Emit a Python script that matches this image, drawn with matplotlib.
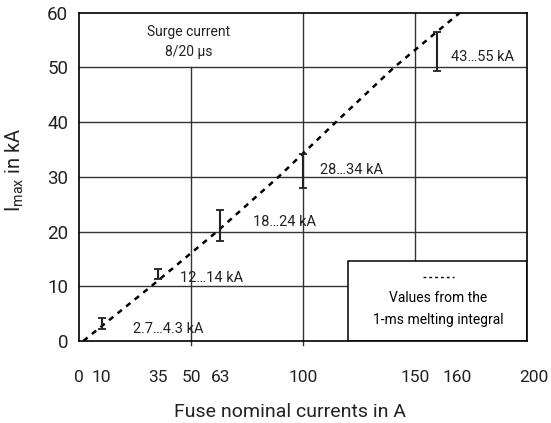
import matplotlib
matplotlib.use('Agg')
import matplotlib.pyplot as plt
from matplotlib.patches import Rectangle
import numpy as np

plt.rcParams['font.family'] = ['Roboto', 'DejaVu Sans']
plt.rcParams['mathtext.default'] = 'regular'

# courbe "valeurs de l'intégrale de fusion 1 ms"
courbe_x = [1.8, 32.1, 61.5, 89, 114.6, 140.6, 170]
courbe_y = [0, 10, 20, 30, 40, 50, 60]

# barres de courant de choc 8/20 µs
fusibles = [10, 35, 63, 100, 160]
i_bas = [2.2, 11.3, 18.2, 28.0, 49.4]
i_haut = [4.2, 13.2, 24.0, 34.2, 56.4]
etiquettes = ['2.7…4.3 kA', '12…14 kA', '18…24 kA', '28…34 kA', '43…55 kA']
etiq_pos = [(24, 2.2), (45.2, 11.5), (77.8, 21.7), (107.3, 31.2), (166, 51.9)]

x_ticks = [0, 10, 35, 50, 63, 100, 150, 160, 200]
y_ticks = [0, 10, 20, 30, 40, 50, 60]

fig = plt.figure(figsize=(5.51, 4.23), dpi=100)
ax = fig.add_axes([0.1439, 0.1939, 0.8126, 0.7761])
ax.set_xlim(0, 200)
ax.set_ylim(0, 60)

gris = '#333333'
# grille horizontale
for y in [10, 20, 30, 40, 50]:
    ax.plot([0, 200], [y, y], color=gris, lw=1, zorder=1)
# grille verticale (avec petit dépassement sous l'axe)
ax.plot([50, 50], [-0.7, 50], color=gris, lw=1, zorder=1, clip_on=False)
ax.plot([100, 100], [-0.7, 60], color=gris, lw=1, zorder=1, clip_on=False)
ax.plot([150, 150], [14, 60], color=gris, lw=1, zorder=1)

# courbe en pointillés
ax.plot(courbe_x, courbe_y, color='black', lw=1.8, dashes=(2.2, 2.2), zorder=3)

# barres d'erreur
centre = [(b + h) / 2 for b, h in zip(i_bas, i_haut)]
demi = [(h - b) / 2 for b, h in zip(i_bas, i_haut)]
ax.errorbar(fusibles, centre, yerr=demi, fmt='none', ecolor='#222222',
            elinewidth=1.5, capsize=3, capthick=1.3, zorder=4)
for txt, (x, y) in zip(etiquettes, etiq_pos):
    ax.text(x, y, txt, fontsize=10.5, ha='left', va='center', color='#222222', zorder=5)

ax.text(49, 54.6, 'Surge current\n8/20 µs', fontsize=10, ha='center', va='center',
        color='#222222', linespacing=1.55)

# cadre de légende
ax.add_patch(Rectangle((120, 0), 80, 14.6, facecolor='white', edgecolor='black',
                       lw=1.1, zorder=6))
ax.plot([153.5, 167.4], [11.7, 11.7], color='black', lw=1, dashes=(2, 2.2), zorder=7)
ax.text(160.3, 7.9, 'Values from the', fontsize=10, ha='center', va='center', zorder=7)
ax.text(160.3, 3.9, '1-ms melting integral', fontsize=10, ha='center', va='center', zorder=7)

for s in ax.spines.values():
    s.set_linewidth(1.2)
    s.set_zorder(8)

# ticks : étiquettes de l'axe x posées à la main (160 décalé pour ne pas chevaucher 150)
decalage = {160: 9, 200: 3}
ax.set_xticks(x_ticks)
ax.set_xticklabels([])
ax.tick_params(axis='x', length=0)
for v in x_ticks:
    ax.text(v + decalage.get(v, 0), -6.6, str(v), fontsize=12.5, ha='center', va='center',
            color='#222222', clip_on=False)
ax.set_yticks(y_ticks)
ax.tick_params(axis='y', length=0, pad=8, labelsize=13.5, labelcolor='#222222')

ax.set_xlabel('Fuse nominal currents in A', fontsize=14, color='#222222')
ax.xaxis.label.set_va('baseline')
ax.xaxis.set_label_coords(0.47, -0.232)
ax.set_ylabel('I$_{max}$ in kA', fontsize=14.5, color='#222222')
ax.yaxis.set_label_coords(-0.12, 0.52)

plt.savefig('out.png', dpi=100)
